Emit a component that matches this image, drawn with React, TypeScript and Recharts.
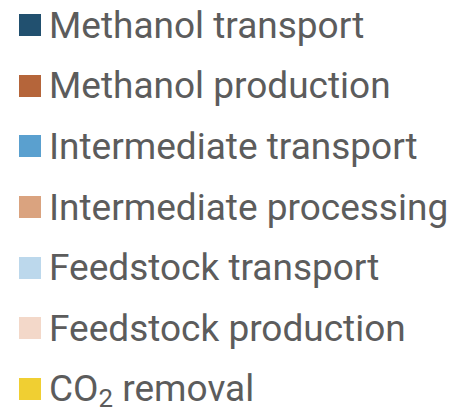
import { BarChart, Bar, Legend } from 'recharts';

// series shown in the legend (top to bottom)
const seriesNames = [
  'Methanol transport',
  'Methanol production',
  'Intermediate transport',
  'Intermediate processing',
  'Feedstock transport',
  'Feedstock production',
  'CO₂ removal',
];
const seriesColors = ['#21506f', '#b5653a', '#5aa0cf', '#daa37f', '#bcd8ec', '#f3d8c9', '#f0cf32'];
const seriesKeys = ['mt', 'mp', 'it', 'ip', 'ft', 'fp', 'co2'];

// the reference only shows the legend, no bar values are visible
const data: Record<string, number>[] = [];

const ROW = 60.67;

// CO₂: draw the subscript as a smaller, lowered 2 like the original
function label(text: string) {
  const i = text.indexOf('₂');
  if (i < 0) return text;
  return (
    <>
      {text.slice(0, i)}
      <span style={{ fontSize: '0.7em', position: 'relative', top: '0.22em' }}>2</span>
      {text.slice(i + 1)}
    </>
  );
}

function LegendList({ payload }: any) {
  const items = [...(payload || [])].sort(
    (a: any, b: any) => seriesNames.indexOf(a.value) - seriesNames.indexOf(b.value)
  );
  return (
    <ul style={{ listStyle: 'none', margin: 0, padding: 0 }}>
      {items.map((entry: any) => (
        <li
          key={entry.value}
          style={{ height: ROW, display: 'flex', alignItems: 'center', whiteSpace: 'nowrap' }}
        >
          <svg width={22} height={22} style={{ marginLeft: 11, marginRight: 8, flex: 'none' }}>
            <rect width={22} height={22} fill={entry.color} />
          </svg>
          <span style={{ fontFamily: 'Roboto', fontSize: 37, lineHeight: 1, color: '#5c5c5c' }}>
            {label(entry.value)}
          </span>
        </li>
      ))}
    </ul>
  );
}

export default function App() {
  return (
    <div style={{ width: 455, height: 408 }}>
      <BarChart width={455} height={408} data={data} margin={{ top: 0, right: 0, bottom: 0, left: 0 }}>
        <Legend
          layout="vertical"
          align="left"
          verticalAlign="top"
          content={<LegendList />}
          wrapperStyle={{ top: -13.3, left: 0 }}
        />
        {seriesKeys.map((k, i) => (
          <Bar key={k} dataKey={k} name={seriesNames[i]} fill={seriesColors[i]} stackId="a" isAnimationActive={false} />
        ))}
      </BarChart>
    </div>
  );
}
